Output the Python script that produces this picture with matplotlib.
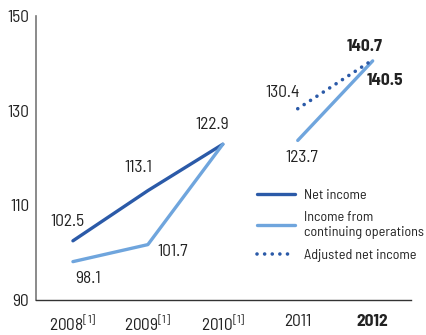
import numpy as np
from matplotlib import pyplot as plt

FONT = ['Barlow Semi Condensed', 'Roboto Condensed', 'DejaVu Sans']
plt.rcParams['font.family'] = FONT
plt.rcParams['mathtext.fontset'] = 'custom'
plt.rcParams['mathtext.rm'] = FONT[0]
plt.rcParams['mathtext.it'] = FONT[0]

years = ["2008$^{[1]}$", "2009$^{[1]}$", "2010$^{[1]}$", "2011", "2012"]
net_income = [102.5, 113.1, 122.9]
cont_ops_early = [98.1, 101.7, 122.9]
cont_ops_late = [123.7, 140.5]
adjusted = [130.4, 140.7]

dark = "#2b5aa8"
light = "#6fa5dd"
txt = "#222222"

fig = plt.figure(figsize=(4.27, 3.35), dpi=100)
ax = fig.add_axes([0.0843, 0.1045, 0.878, 0.848])

x = np.arange(len(years))
ax.plot(x[:3], net_income, color=dark, lw=2.4, solid_capstyle='round', label="Net income")
ax.plot(x[:3], cont_ops_early, color=light, lw=2.4, solid_capstyle='round',
        label="Income from\ncontinuing operations")
ax.plot(x[3:], cont_ops_late, color=light, lw=2.4, solid_capstyle='round')
ax.plot(x[3:], adjusted, color=dark, lw=2.6, linestyle=(0, (0.01, 2.1)),
        dash_capstyle='round', label="Adjusted net income")

# value labels, offsets in points from each data point
labels = [
    (0, net_income[0], "102.5", (-4, 14), 'normal'),
    (0, cont_ops_early[0], "98.1", (11, -12), 'normal'),
    (1, net_income[1], "113.1", (-7, 17), 'normal'),
    (1, cont_ops_early[1], "101.7", (18, -5), 'normal'),
    (2, net_income[2], "122.9", (-8, 14), 'normal'),
    (3, adjusted[0], "130.4", (-11, 12), 'normal'),
    (3, cont_ops_late[0], "123.7", (3, -12), 'normal'),
    (4, adjusted[1], "140.7", (-6, 10), 'bold'),
    (4, cont_ops_late[1], "140.5", (9, -14), 'bold'),
]
for xi, yi, s, off, wt in labels:
    ax.annotate(s, (xi, yi), xytext=off, textcoords='offset points',
                ha='center', va='center', fontsize=12.5, color=txt, fontweight=wt)

ax.set_xlim(-0.493, 4.51)
ax.set_ylim(90, 150)
ax.set_yticks([90, 110, 130, 150])
ax.set_xticks(x)
ax.set_xticklabels(years)
ax.get_xticklabels()[-1].set_fontweight('bold')
ax.tick_params(axis='both', length=0, labelsize=12.5, colors=txt)
ax.tick_params(axis='y', pad=5)
ax.tick_params(axis='x', pad=10)

for side in ['top', 'right']:
    ax.spines[side].set_visible(False)
ax.spines['left'].set_color("#777777")
ax.spines['bottom'].set_color("#333333")
ax.spines['left'].set_linewidth(1.2)
ax.spines['bottom'].set_linewidth(1.0)

ax.legend(loc='upper left', bbox_to_anchor=(0.57, 0.415), frameon=False,
          fontsize=10.2, handlelength=2.7, handletextpad=0.65, labelspacing=0.65,
          borderpad=0, labelcolor=txt)

fig.savefig("out.png", dpi=100)
